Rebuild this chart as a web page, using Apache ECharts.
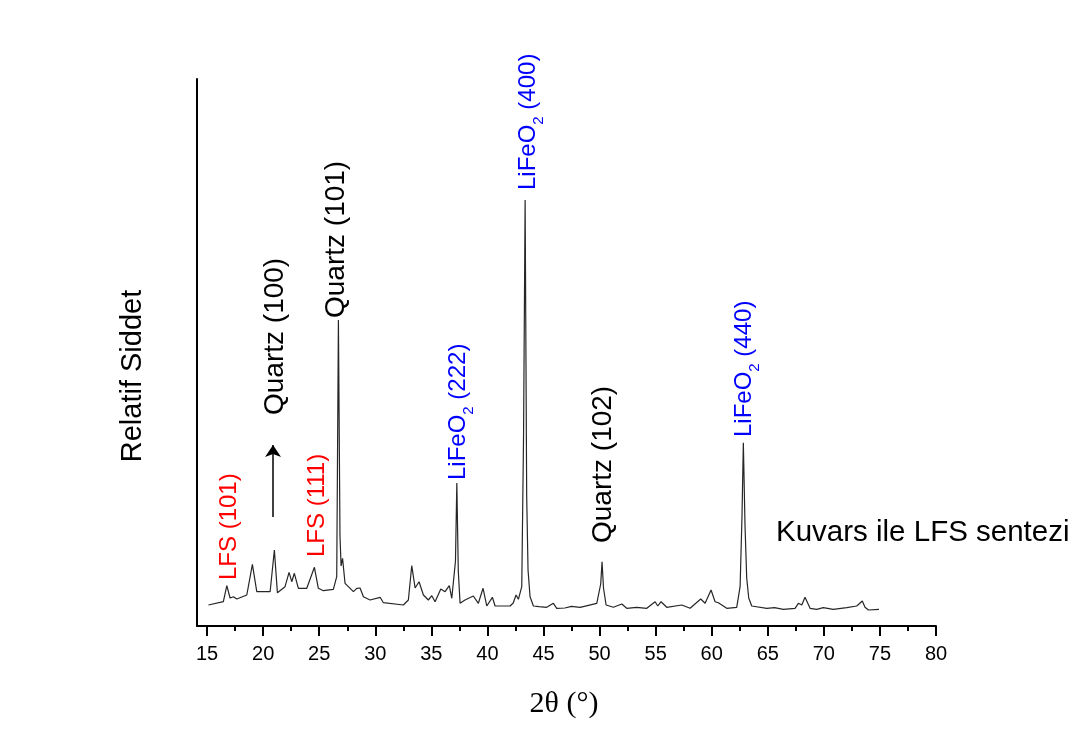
<!DOCTYPE html>
<html>
<head>
<meta charset="utf-8">
<title>XRD - Kuvars ile LFS sentezi</title>
<script src="https://cdn.jsdelivr.net/npm/echarts@6/dist/echarts.min.js"></script>
<style>
  html, body { margin: 0; padding: 0; background: #ffffff; }
  #chart { width: 1076px; height: 751px; }
</style>
</head>
<body>
<div id="chart"></div>
<script>
// Diffraction pattern: 2θ (degrees) and measured counts
const twoTheta = [
  15.12, 16.45, 16.76, 17.05, 17.35, 17.65, 18.54, 19.04, 19.43, 20.62,
  21.00, 21.27, 21.95, 22.31, 22.55, 22.78, 23.14, 23.89, 24.57, 24.92,
  25.37, 26.26, 26.56, 26.71, 26.85, 26.95, 27.08, 27.30, 28.05, 28.35,
  28.64, 28.94, 29.53, 30.43, 30.72, 32.50, 32.95, 33.25, 33.55, 33.90,
  34.29, 34.73, 35.04, 35.33, 35.84, 36.22, 36.60, 36.82, 37.15, 37.27,
  37.40, 37.56, 38.00, 38.74, 39.19, 39.61, 39.94, 40.44, 40.68, 42.02,
  42.30, 42.55, 42.76, 43.06, 43.22, 43.36, 43.50, 43.62, 43.80, 44.10,
  44.60, 45.29, 45.88, 46.18, 46.90, 47.50, 48.26, 49.75, 50.10, 50.22,
  50.35, 50.58, 51.23, 51.98, 52.42, 53.30, 54.21, 54.95, 55.19, 55.48,
  55.99, 57.33, 58.07, 59.02, 59.41, 59.94, 60.30, 60.59, 61.34, 62.23,
  62.53, 62.70, 62.82, 62.97, 63.12, 63.30, 63.57, 64.91, 65.60, 66.39,
  67.43, 67.73, 68.03, 68.32, 68.77, 69.36, 69.95, 70.84, 72.04, 72.93,
  73.43, 73.67, 73.97, 74.92
];
const intensity = [
   210,  243,  403,  280,  293,  270,  310,  617,  343,  343,
   760,  333,  393,  537,  443,  527,  377,  377,  587,  377,
   353,  367,  493, 3060,  900,  600,  677,  427,  343,  377,
   380,  293,  260,  287,  233,  210,  260,  603,  380,  443,
   310,  260,  303,  243,  370,  343,  403,  277,  650, 1430,
   550,  227,  260,  300,  227,  377,  200,  287,  200,  200,
   230,  310,  267,  393, 1900, 4260, 1300,  560,  293,  200,
   193,  187,  227,  177,  180,  197,  187,  227,  420,  643,
   380,  210,  187,  220,  177,  187,  177,  243,  200,  243,
   187,  210,  177,  270,  227,  360,  243,  233,  177,  187,
   393, 1100, 1833, 1000,  480,  280,  200,  177,  183,  167,
   177,  227,  210,  287,  177,  167,  183,  167,  183,  200,
   250,  187,  160,  167
];

// Axis ticks
const xMajorTicks = [15, 20, 25, 30, 35, 40, 45, 50, 55, 60, 65, 70, 75, 80];
const xMinorTicks = [17.5, 22.5, 27.5, 32.5, 37.5, 42.5, 47.5, 52.5, 57.5, 62.5, 67.5, 72.5, 77.5];

// Reflection annotations: text, phase, 2θ and the count level where the text starts
const peakNames  = ['LFS (101)', 'Quartz (100)', 'LFS (111)', 'Quartz (101)',
                    'LiFeO{s|2} (222)', 'LiFeO{s|2} (400)', 'Quartz (102)', 'LiFeO{s|2} (440)'];
const peakPhases = ['LFS', 'Quartz', 'LFS', 'Quartz', 'LiFeO2', 'LiFeO2', 'Quartz', 'LiFeO2'];
const peakTheta  = [16.96, 21.06, 24.81, 26.55, 37.38, 43.62, 50.35, 62.90];
const peakLevel  = [460, 2110, 690, 3080, 1460, 4360, 830, 1890];

// Arrow under the Quartz (100) text
const arrowTheta = 20.88;
const arrowFrom = 1090;
const arrowTo = 1810;

const seriesName = 'Kuvars ile LFS sentezi';

const phaseStyle = {
  LFS:    { color: '#ff0000', fontSize: 24 },
  Quartz: { color: '#000000', fontSize: 28 },
  LiFeO2: { color: '#0000ff', fontSize: 24 }
};

const SANS = '"Liberation Sans", Arial, sans-serif';
const SERIF = '"Liberation Serif", "Times New Roman", serif';

const pattern = twoTheta.map((t, i) => [t, intensity[i]]);

const annotations = peakNames.map((name, i) => {
  const st = phaseStyle[peakPhases[i]];
  return {
    value: [peakTheta[i], peakLevel[i]],
    label: {
      formatter: name,
      color: st.color,
      opacity: 1,
      fontSize: st.fontSize,
      lineHeight: st.fontSize === 24 ? 36 : 30,
      rich: {
        s: { fontSize: 15, lineHeight: 15, verticalAlign: 'bottom', color: st.color, fontFamily: SANS }
      }
    }
  };
});

const chart = echarts.init(document.getElementById('chart'), null, { renderer: 'canvas' });

chart.setOption({
  backgroundColor: '#ffffff',
  animation: false,
  grid: { left: 197, right: 140, top: 79, bottom: 125, containLabel: false },
  legend: {
    data: [seriesName],
    left: 766,
    top: 513,
    icon: 'rect',
    itemWidth: 0,
    itemHeight: 0,
    itemStyle: { opacity: 0 },
    lineStyle: { opacity: 0 },
    selectedMode: false,
    textStyle: { fontFamily: SANS, fontSize: 29.5, color: '#000000' }
  },
  xAxis: [
    {
      type: 'value',
      min: 14.1,
      max: 80,
      position: 'bottom',
      axisLine: { show: true, onZero: false, lineStyle: { color: '#000000', width: 2 } },
      axisTick: { show: true, inside: false, length: 10, customValues: xMajorTicks,
                  lineStyle: { color: '#000000', width: 2 } },
      axisLabel: { show: true, customValues: xMajorTicks, margin: 18,
                   fontFamily: SANS, fontSize: 20, color: '#000000' },
      splitLine: { show: false }
    },
    {
      type: 'value',
      min: 14.1,
      max: 80,
      position: 'bottom',
      gridIndex: 0,
      axisLine: { show: false, onZero: false },
      axisTick: { show: true, inside: false, length: 5, customValues: xMinorTicks,
                  lineStyle: { color: '#000000', width: 2 } },
      axisLabel: { show: false },
      splitLine: { show: false }
    }
  ],
  yAxis: {
    type: 'value',
    min: 0,
    max: 5470,
    axisLine: { show: true, onZero: false, lineStyle: { color: '#000000', width: 2 } },
    axisTick: { show: false },
    axisLabel: { show: false },
    splitLine: { show: false }
  },
  graphic: [
    {
      type: 'text',
      x: 133, y: 376,
      rotation: Math.PI / 2,
      style: { text: 'Relatif Siddet', fontFamily: SANS, fontSize: 29, fill: '#000000',
               textAlign: 'center', textVerticalAlign: 'middle' }
    },
    {
      type: 'text',
      x: 564, y: 704,
      style: { text: '2θ (°)', fontFamily: SERIF, fontSize: 30, fill: '#000000',
               textAlign: 'center', textVerticalAlign: 'middle' }
    }
  ],
  series: [
    {
      name: seriesName,
      type: 'line',
      xAxisIndex: 0,
      data: pattern,
      showSymbol: false,
      symbol: 'none',
      silent: true,
      lineStyle: { color: '#262626', width: 1.2 }
    },
    {
      name: 'annotations',
      type: 'scatter',
      xAxisIndex: 0,
      symbolSize: 0,
      silent: true,
      itemStyle: { opacity: 1 },
      data: annotations,
      label: {
        show: true,
        position: 'inside',
        rotate: 90,
        align: 'left',
        verticalAlign: 'middle',
        fontFamily: SANS
      },
      markLine: {
        silent: true,
        symbol: ['none', 'arrow'],
        symbolSize: 12,
        label: { show: false },
        lineStyle: { color: '#000000', width: 1.5, type: 'solid', opacity: 1 },
        data: [[
          { coord: [arrowTheta, arrowFrom] },
          { coord: [arrowTheta, arrowTo] }
        ]]
      }
    }
  ]
});
</script>
</body>
</html>
